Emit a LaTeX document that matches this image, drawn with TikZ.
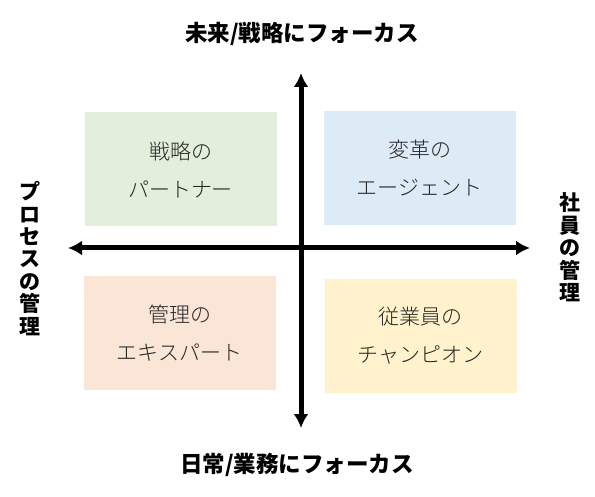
\documentclass[tikz,border=0pt]{standalone}
\usepackage{fontspec}
\usepackage{xcolor}
\usetikzlibrary{arrows.meta}
\setmainfont{Noto Sans CJK JP}
\IfFontExistsTF{Noto Sans CJK JP Light}
  {\newfontfamily\lightjp{Noto Sans CJK JP Light}}
  {\newfontfamily\lightjp{Noto Sans CJK JP}}
\definecolor{greenq}{HTML}{E2EFDA}
\definecolor{blueq}{HTML}{DDEBF7}
\definecolor{peachq}{HTML}{FBE5D6}
\definecolor{yellowq}{HTML}{FFF2CC}
\definecolor{quadtext}{HTML}{262626}
\tikzset{>=stealth}
\tikzset{
  quad/.style={inner sep=0pt, minimum width=192pt, minimum height=114pt, align=center,
    text=quadtext, font=\lightjp\fontsize{21}{38}\selectfont},
  axislabel/.style={align=center, font=\bfseries\fontsize{21}{22.4}\selectfont},
  focuslabel/.style={font=\bfseries\fontsize{22.5}{24}\selectfont},
  axis/.style={line width=5pt, {Latex[length=14pt,width=15pt]}-{Latex[length=14pt,width=15pt]}}
}

\begin{document}
\begin{tikzpicture}[x=1pt,y=-1pt]
      \useasboundingbox (0,0) rectangle (595,497);
      % quadrants
      \node[quad, fill=greenq] (partner) at (180.5,169.5) {戦略の\\パートナー};
      \node[quad, fill=blueq] (agent) at (419.5,168) {変革の\\エージェント};
      \node[quad, fill=peachq] (expert) at (179.5,333) {管理の\\エキスパート};
      \node[quad, fill=yellowq] (champion) at (420.5,336) {従業員の\\チャンピオン};
      % axes
      \coordinate (top) at (301,73);
      \coordinate (bottom) at (301,428);
      \coordinate (left) at (68,248);
      \coordinate (right) at (530,248);
      \draw[axis] (bottom) -- (top);
      \draw[axis] (left) -- (right);
      % labels
      \node[focuslabel] (future) at (302,34) {未来/戦略にフォーカス};
      \node[focuslabel] (daily) at (297,465) {日常/業務にフォーカス};
      \node[axislabel] (process) at (30,258.5) {プ\\ロ\\セ\\ス\\の\\管\\理};
      \node[axislabel] (people) at (570,247.5) {社\\員\\の\\管\\理};
    \end{tikzpicture}
\end{document}
